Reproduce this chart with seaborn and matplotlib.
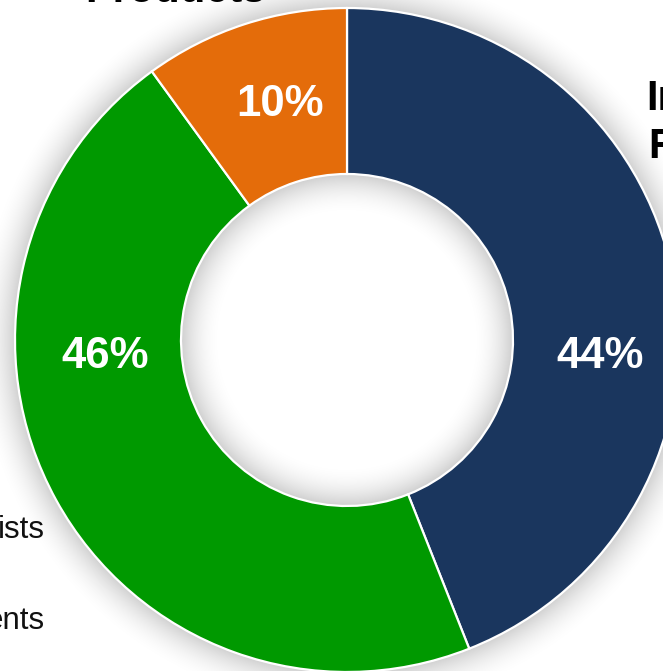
import numpy as np
import matplotlib
matplotlib.use("Agg")
import matplotlib.pyplot as plt
import seaborn as sns

# ---- data ----
segments = ["Navy segment", "Green segment", "Orange segment"]
shares = [44, 46, 10]
seg_colors = ["#1a365e", "#009900", "#e46c0a"]
pct_labels = ["44%", "46%", "10%"]

sns.set_theme(style="white")
plt.rcParams["font.family"] = ["Liberation Sans", "DejaVu Sans"]

W, H, DPI = 663, 671, 100
fig = plt.figure(figsize=(W / DPI, H / DPI), dpi=DPI)
ax = fig.add_axes([0, 0, 1, 1])

# geometry in pixel units, centre at (347, 340 from top)
cx, cy = 347, 340
R_OUT, R_IN = 332, 166
xmin, xmax = -cx, W - cx
ymin, ymax = -(H - cy), cy

# soft glow shadow around donut shape
xs = np.linspace(xmin, xmax, W)
ys = np.linspace(ymax, ymin, H)
X, Y = np.meshgrid(xs, ys)
r = np.hypot(X, Y)
d = np.maximum.reduce([r - R_OUT, R_IN - r, np.zeros_like(r)])
alpha = 0.19 * np.clip(1 - d / 42.0, 0, 1) ** 2
img = np.zeros((H, W, 4))
img[..., 3] = alpha
ax.imshow(img, extent=(xmin, xmax, ymin, ymax), zorder=0, interpolation="bilinear")

wedges, _ = ax.pie(
    shares,
    colors=seg_colors,
    startangle=90,
    counterclock=False,
    radius=R_OUT,
    wedgeprops=dict(width=R_OUT - R_IN, edgecolor="white", linewidth=1.6),
)
for w in wedges:
    w.set_zorder(2)

# percentage labels (layout positions)
label_pos = [(253, -16), (-242, -16), (-67, 235)]
for txt, (lx, ly) in zip(pct_labels, label_pos):
    ax.text(lx, ly, txt, color="white", fontsize=31.5, fontweight="bold",
            ha="center", va="center", zorder=3)

# cropped surrounding texts
ax.text(-262, 338, "Products", fontsize=30, fontweight="bold", color="black",
        ha="left", va="baseline", zorder=3)
ax.text(299, 230, "In", fontsize=30, fontweight="bold", color="black",
        ha="left", va="baseline", zorder=3)
ax.text(301, 182, "F", fontsize=30, fontweight="bold", color="black",
        ha="left", va="baseline", zorder=3)
ax.text(-302, -198, "ists", fontsize=22.5, color="#111111",
        ha="right", va="baseline", zorder=3)
ax.text(-302, -289, "ents", fontsize=22.5, color="#111111",
        ha="right", va="baseline", zorder=3)

ax.set_xlim(xmin, xmax)
ax.set_ylim(ymin, ymax)
ax.set_aspect("equal")
ax.axis("off")

fig.savefig("out.png", dpi=DPI, facecolor="white")
